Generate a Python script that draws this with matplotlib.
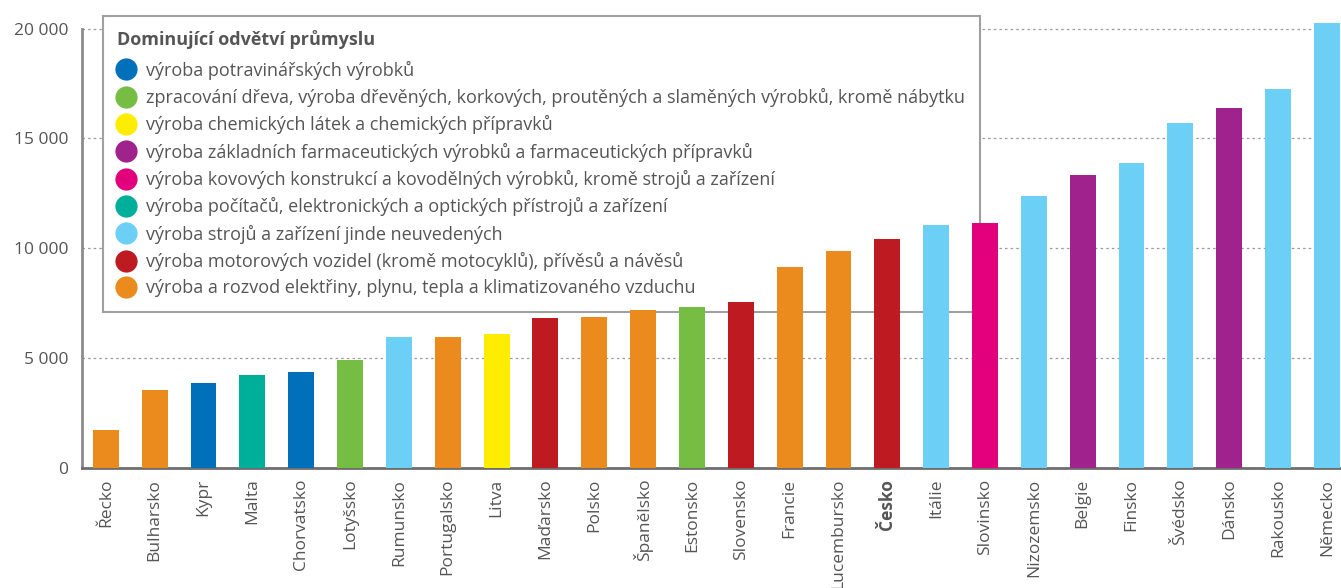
import numpy as np
import matplotlib
matplotlib.use("Agg")
import matplotlib.pyplot as plt
from matplotlib.lines import Line2D

plt.rcParams['font.family'] = ['Open Sans', 'DejaVu Sans']

# Data
countries = ['Řecko', 'Bulharsko', 'Kypr', 'Malta', 'Chorvatsko', 'Lotyšsko',
             'Rumunsko', 'Portugalsko', 'Litva', 'Maďarsko', 'Polsko',
             'Španělsko', 'Estonsko', 'Slovensko', 'Francie', 'Lucembursko',
             'Česko', 'Itálie', 'Slovinsko', 'Nizozemsko', 'Belgie', 'Finsko',
             'Švédsko', 'Dánsko', 'Rakousko', 'Německo']
values = [1720, 3550, 3870, 4240, 4370, 4920, 5970, 5970, 6110, 6800, 6840,
          7180, 7300, 7530, 9140, 9870, 10420, 11060, 11150, 12380, 13340,
          13880, 15710, 16390, 17260, 20260]
# index into industries for each country
industry_idx = [8, 8, 0, 5, 0, 1, 6, 8, 2, 7, 8, 8, 1, 7, 8, 8, 7, 6, 4, 6, 3,
                6, 6, 3, 6, 6]

industries = [
    'výroba potravinářských výrobků',
    'zpracování dřeva, výroba dřevěných, korkových, proutěných a slaměných výrobků, kromě nábytku',
    'výroba chemických látek a chemických přípravků',
    'výroba základních farmaceutických výrobků a farmaceutických přípravků',
    'výroba kovových konstrukcí a kovodělných výrobků, kromě strojů a zařízení',
    'výroba počítačů, elektronických a optických přístrojů a zařízení',
    'výroba strojů a zařízení jinde neuvedených',
    'výroba motorových vozidel (kromě motocyklů), přívěsů a návěsů',
    'výroba a rozvod elektřiny, plynu, tepla a klimatizovaného vzduchu',
]
industry_colors = ['#0070BA', '#76BD43', '#FFED00', '#A0228C', '#E2007D',
                   '#00AF9A', '#6BCFF6', '#BE1A21', '#EB8B1D']
legend_title = 'Dominující odvětví průmyslu'
yticks = [0, 5000, 10000, 15000, 20000]
ytick_labels = ['0', '5 000', '10 000', '15 000', '20 000']
highlight = 'Česko'

text_color = '#555555'

fig = plt.figure(figsize=(13.41, 5.88), dpi=100)
ax = fig.add_axes([0.0611, 0.2048, 0.9389, 0.765])

x = np.arange(len(countries))
bar_colors = [industry_colors[i] for i in industry_idx]
ax.bar(x, values, width=0.53, color=bar_colors, zorder=3)

ax.set_xlim(-0.49, len(countries) - 1 + 0.29)
ax.set_ylim(0, 20500)

ax.set_yticks(yticks)
ax.set_yticklabels(ytick_labels)
ax.yaxis.grid(True, color='#9a9a9a', linestyle=(0, (2, 2.5)), linewidth=0.9,
              zorder=0)
ax.set_axisbelow(True)

ax.set_xticks(x)
ax.set_xticklabels(countries, rotation=90)
for lab in ax.get_xticklabels():
    if lab.get_text() == highlight:
        lab.set_fontweight('bold')

ax.tick_params(axis='both', length=0, labelsize=12.5, colors=text_color)
ax.tick_params(axis='y', pad=10)
ax.tick_params(axis='x', pad=8)

for side in ['top', 'right']:
    ax.spines[side].set_visible(False)
ax.spines['left'].set_color('#8c8c8c')
ax.spines['left'].set_linewidth(2)
ax.spines['left'].set_bounds(0, 20000)
ax.spines['bottom'].set_color('#6e6e6e')
ax.spines['bottom'].set_linewidth(2)

# legend box sits behind the bars (bars overlap it in the original)
handles = [Line2D([], [], marker='o', linestyle='none', markersize=16,
                  markerfacecolor=c, markeredgecolor='none')
           for c in industry_colors]
leg = ax.legend(handles, industries, title=legend_title,
                loc='upper left', bbox_to_anchor=(103 / 1341, 1 - 16 / 588),
                bbox_transform=fig.transFigure, borderaxespad=0,
                frameon=True, fancybox=False, framealpha=1,
                fontsize=13, title_fontsize=13, labelspacing=0.46,
                handlelength=1.0, handletextpad=0.6, borderpad=0.8,
                alignment='left', labelcolor=text_color)
leg.get_frame().set_edgecolor('#a0a0a0')
leg.get_frame().set_linewidth(1.5)
leg.get_title().set_fontweight('bold')
leg.get_title().set_color(text_color)
leg._legend_box.sep += 2
leg.set_zorder(1)

fig.savefig('out.png', dpi=100)
